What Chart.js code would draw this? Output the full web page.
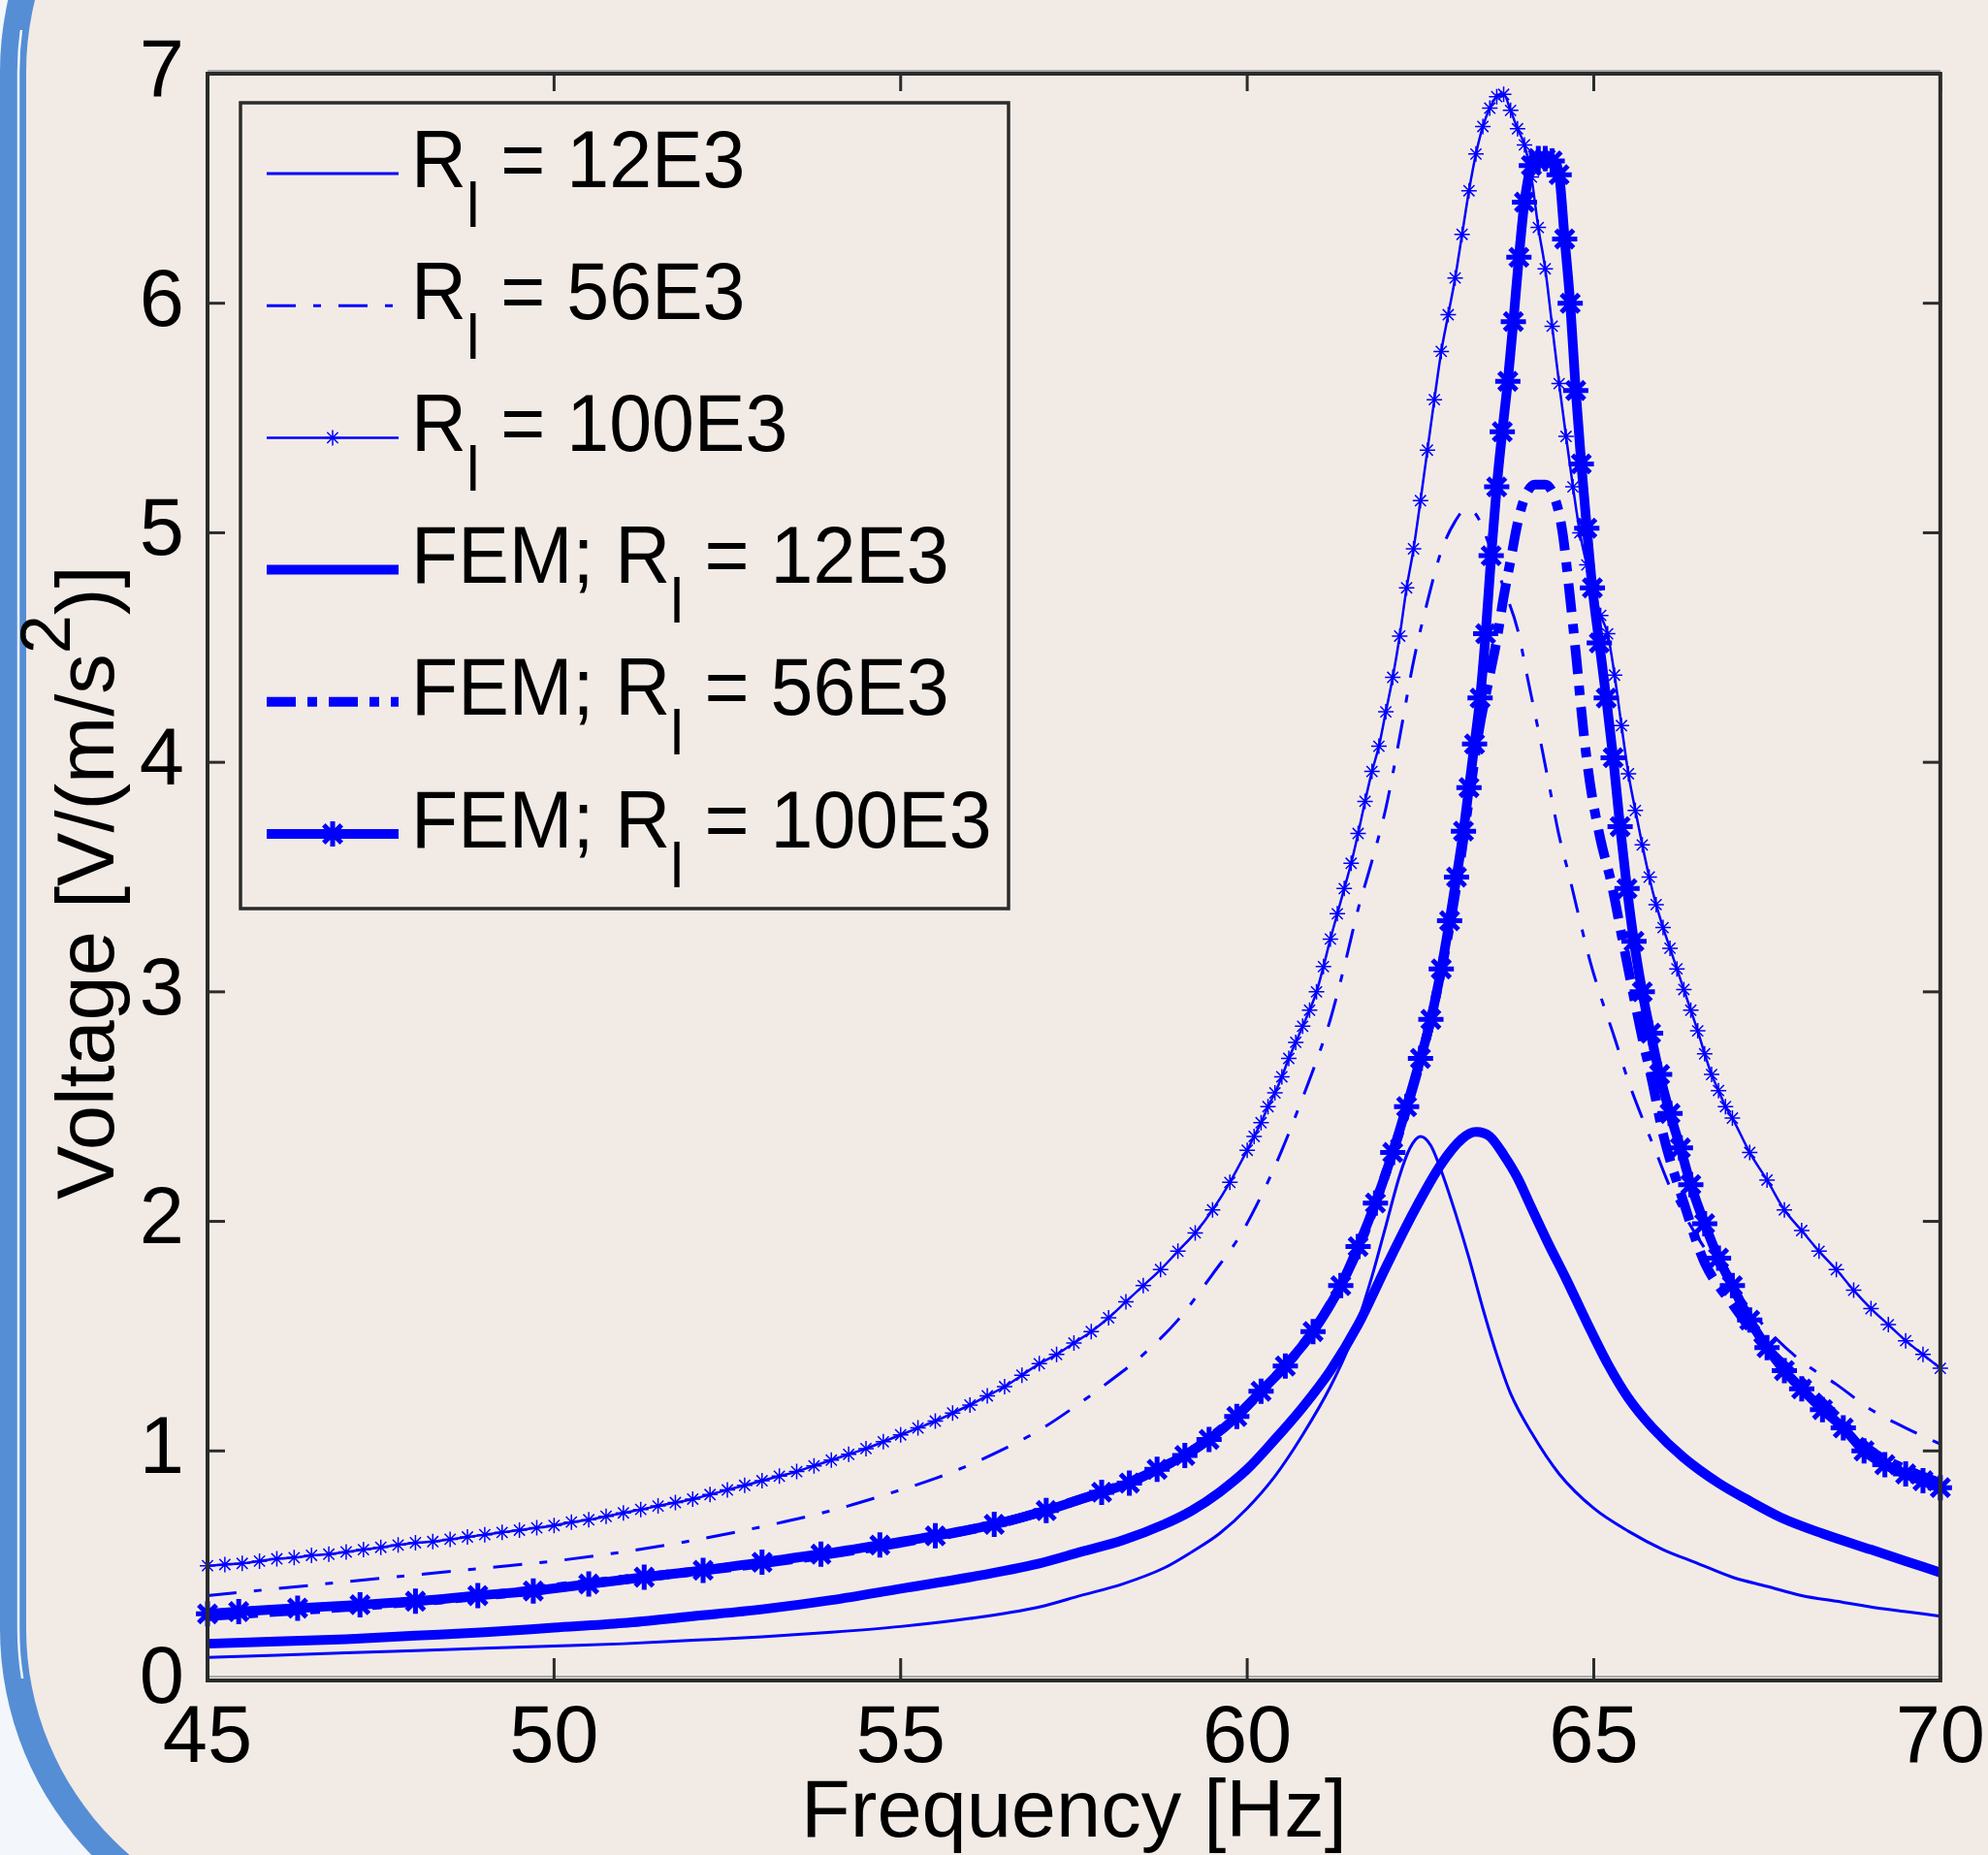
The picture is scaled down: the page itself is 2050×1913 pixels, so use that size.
<!DOCTYPE html>
<html>
<head>
<meta charset="utf-8">
<title>Voltage vs Frequency</title>
<script src="https://cdn.jsdelivr.net/npm/chart.js@4.4.1/dist/chart.umd.min.js"></script>
<style>
  body { margin: 0; background: #f2ebe5; }
  #box { width: 2050px; height: 1913px; }
</style>
</head>
<body>
<div id="box"><canvas id="voltChart"></canvas></div>
<script>
// R_l = 12E3 (thin solid)
const freqR12 = [45,46,47,48,49,50,51,52,53,54,55,56,57,57.6,58.2,58.8,59.2,59.6,60,60.4,60.8,61.2,61.5,61.8,62,62.2,62.35,62.5,62.65,62.8,63,63.2,63.4,63.6,63.8,64.1,64.5,65,65.5,66,66.5,67,67.5,68,68.5,69,69.5,70];
const voltR12 = [0.10,0.11,0.12,0.13,0.14,0.15,0.16,0.175,0.19,0.21,0.235,0.27,0.32,0.37,0.42,0.49,0.56,0.64,0.75,0.89,1.07,1.28,1.48,1.76,1.98,2.20,2.32,2.37,2.33,2.22,2.04,1.84,1.62,1.42,1.25,1.08,0.90,0.75,0.65,0.57,0.51,0.45,0.41,0.37,0.345,0.32,0.30,0.28];

// R_l = 56E3 (thin dash-dot)
const freqR56 = [45,46,47,48,49,50,51,52,53,54,55,55.5,56,56.5,57,57.5,58,58.5,59,59.5,59.9,60.2,60.5,60.75,61,61.2,61.4,61.6,61.8,62,62.2,62.4,62.6,62.8,63,63.15,63.3,63.5,63.7,63.9,64.05,64.2,64.35,64.5,64.65,64.8,64.95,65.1,65.3,65.5,65.7,65.9,66.1,66.5,67,67.5,68,68.5,69,69.5,70];
const voltR56 = [0.37,0.40,0.43,0.46,0.49,0.52,0.56,0.61,0.67,0.74,0.83,0.88,0.94,1.01,1.09,1.19,1.30,1.42,1.57,1.77,1.94,2.11,2.31,2.50,2.70,2.88,3.11,3.36,3.57,3.80,4.11,4.44,4.70,4.92,5.05,5.10,5.08,4.94,4.76,4.58,4.36,4.14,3.91,3.68,3.50,3.31,3.13,2.98,2.80,2.61,2.45,2.30,2.15,1.93,1.72,1.53,1.39,1.29,1.18,1.10,1.03];

// R_l = 100E3 (thin line, star markers)
const freqR100 = [45,45.25,45.5,45.75,46,46.25,46.5,46.75,47,47.25,47.5,47.75,48,48.25,48.5,48.75,49,49.25,49.5,49.75,
  50,50.25,50.5,50.75,51,51.25,51.5,51.75,52,52.25,52.5,52.75,53,53.25,53.5,53.75,54,54.25,54.5,54.75,
  55,55.25,55.5,55.75,56,56.25,56.5,56.75,57,57.25,57.5,57.75,58,58.25,58.5,58.75,59,59.25,59.5,59.75,60,
  60.1,60.2,60.3,60.4,60.5,60.6,60.7,60.8,60.9,61,61.1,61.2,61.3,61.4,61.5,61.6,61.7,61.8,61.9,62,
  62.1,62.2,62.3,62.4,62.5,62.6,62.7,62.8,62.9,63,63.1,63.2,63.3,63.4,63.5,63.6,63.7,63.8,63.9,64,
  64.1,64.2,64.3,64.4,64.5,64.6,64.7,64.8,64.9,65,65.1,65.2,65.3,65.4,65.5,65.6,65.7,65.8,65.9,66,
  66.1,66.2,66.3,66.4,66.5,66.6,66.7,66.8,66.9,
  67,67.25,67.5,67.75,68,68.25,68.5,68.75,69,69.25,69.5,69.75,70];
const voltR100 = [0.50,0.505,0.51,0.52,0.53,0.535,0.545,0.55,0.56,0.57,0.58,0.59,0.60,0.605,0.615,0.625,0.635,0.645,0.655,0.665,
  0.675,0.69,0.70,0.715,0.73,0.745,0.76,0.775,0.79,0.81,0.83,0.85,0.87,0.89,0.91,0.935,0.96,0.985,1.01,1.04,
  1.07,1.10,1.13,1.165,1.20,1.24,1.28,1.33,1.38,1.42,1.47,1.52,1.58,1.65,1.72,1.79,1.87,1.95,2.05,2.17,2.31,
  2.37,2.43,2.50,2.56,2.63,2.71,2.78,2.85,2.92,3.00,3.11,3.23,3.34,3.45,3.56,3.69,3.83,3.96,4.07,4.22,
  4.37,4.55,4.76,4.93,5.14,5.36,5.58,5.79,5.95,6.11,6.30,6.49,6.65,6.77,6.85,6.90,6.91,6.84,6.76,6.69,
  6.55,6.33,6.15,5.90,5.65,5.42,5.20,5.00,4.86,4.75,4.64,4.56,4.38,4.16,3.95,3.79,3.64,3.50,3.38,3.28,
  3.19,3.10,3.01,2.92,2.83,2.73,2.64,2.57,2.50,
  2.45,2.30,2.18,2.05,1.96,1.87,1.79,1.70,1.62,1.55,1.48,1.42,1.36];

// FEM; R_l = 12E3 (thick solid)
const freqFem12 = [45,46,47,48,49,50,51,52,53,54,55,56,57,57.6,58.2,58.8,59.2,59.6,60,60.4,60.8,61.2,61.6,62,62.4,62.8,63.1,63.3,63.5,63.7,63.9,64.1,64.35,64.6,64.9,65.2,65.5,65.85,66.3,66.8,67.2,67.7,68.3,69,69.5,70];
const voltFem12 = [0.16,0.17,0.18,0.195,0.21,0.23,0.25,0.28,0.31,0.35,0.40,0.45,0.51,0.56,0.61,0.68,0.74,0.82,0.92,1.05,1.19,1.35,1.55,1.80,2.04,2.25,2.36,2.39,2.37,2.29,2.19,2.06,1.90,1.75,1.56,1.38,1.23,1.10,0.97,0.86,0.79,0.71,0.64,0.57,0.52,0.47];

// FEM; R_l = 56E3 (thick dash-dot)
const freqFem56 = [45,47,49,51,53,55,56.5,57.5,58.5,59.2,59.8,60.3,60.8,61.2,61.6,62,62.3,62.6,62.85,63.05,63.2,63.35,63.5,63.61,63.7,63.8,63.9,64,64.15,64.3,64.45,64.55,64.65,64.75,64.85,64.95,65.1,65.25,65.4,65.55,65.7,65.85,66,66.3,66.6,67,67.4,68,68.5,69,69.5,70];
const voltFem56 = [0.28,0.32,0.37,0.44,0.51,0.60,0.69,0.78,0.89,1.0,1.14,1.29,1.46,1.64,1.88,2.21,2.49,2.82,3.17,3.52,3.84,4.15,4.38,4.55,4.72,4.88,5.04,5.15,5.21,5.21,5.14,5.0,4.74,4.45,4.14,3.90,3.66,3.48,3.25,3.02,2.80,2.60,2.38,2.08,1.82,1.64,1.48,1.30,1.15,1.00,0.92,0.86];

// FEM; R_l = 100E3 (thick line, bold star markers)
const freqFem100 = [45,45.45,46.3,47.2,48,48.9,49.7,50.5,51.3,52.15,53,53.85,54.7,55.5,56.35,57.1,57.9,58.3,58.7,59.1,
  59.45,59.85,60.2,60.55,60.95,61.35,61.6,61.85,62.1,62.3,62.5,62.65,62.8,62.92,63.02,63.12,63.2,63.28,63.36,63.44,
  63.52,63.6,63.68,63.76,63.84,63.92,64,64.1,64.2,64.3,64.4,64.5,64.58,64.66,64.74,64.82,64.9,64.98,65.08,65.18,
  65.28,65.38,65.48,65.58,65.7,65.82,65.95,66.1,66.25,66.4,66.6,66.8,67,67.25,67.5,67.75,68,68.3,68.6,68.9,
  69.2,69.5,69.75,70];
const voltFem100 = [0.29,0.30,0.315,0.33,0.345,0.37,0.39,0.42,0.45,0.48,0.515,0.55,0.59,0.63,0.68,0.74,0.82,0.86,0.92,0.98,
  1.05,1.15,1.26,1.37,1.52,1.72,1.89,2.08,2.30,2.50,2.71,2.88,3.10,3.31,3.50,3.70,3.89,4.08,4.28,4.56,
  4.90,5.20,5.44,5.66,5.92,6.20,6.44,6.60,6.63,6.63,6.62,6.56,6.28,6.00,5.62,5.30,5.02,4.76,4.52,4.28,
  4.02,3.72,3.45,3.22,3.00,2.82,2.64,2.47,2.32,2.16,1.99,1.84,1.72,1.57,1.45,1.35,1.27,1.18,1.10,1.00,
  0.94,0.90,0.87,0.84];

const xTickValues = [45, 50, 55, 60, 65, 70];
const yTickValues = [0, 1, 2, 3, 4, 5, 6, 7];
const legendPrefix = ["R", "R", "R", "FEM; R", "FEM; R", "FEM; R"];
const legendSuffix = [" = 12E3", " = 56E3", " = 100E3", " = 12E3", " = 56E3", " = 100E3"];

const FONT = '"Liberation Sans", Arial, sans-serif';
const BLUE = "#0000ff";

function pairs(xs, ys) {
    return xs.map((x, i) => ({ x: x, y: ys[i] }));
}

const datasets = [
    { data: pairs(freqR12, voltR12), borderWidth: 3, pointRadius: 0, order: 6 },
    { data: pairs(freqR56, voltR56), borderWidth: 3, borderDash: [30, 18, 8, 18], pointRadius: 0, order: 5 },
    { data: pairs(freqR100, voltR100), borderWidth: 2.5, pointStyle: "star", pointRadius: 8, pointBorderWidth: 1.5, order: 4 },
    { data: pairs(freqFem12, voltFem12), borderWidth: 10, pointRadius: 0, order: 3 },
    { data: pairs(freqFem56, voltFem56), borderWidth: 10, borderDash: [30, 12, 10, 12], pointRadius: 0, order: 2 },
    { data: pairs(freqFem100, voltFem100), borderWidth: 10, pointStyle: "star", pointRadius: 13, pointBorderWidth: 5, order: 1 }
].map(d => Object.assign({
    borderColor: BLUE,
    backgroundColor: BLUE,
    pointBorderColor: BLUE,
    pointBackgroundColor: BLUE,
    showLine: true,
    fill: false,
    cubicInterpolationMode: "monotone",
    borderCapStyle: "butt",
    borderJoinStyle: "round",
    clip: 12
}, d));

// slide frame: blue rounded border on the left, beige panel
function framePath(ctx, inset) {
    const r = 335 - inset;
    ctx.beginPath();
    ctx.moveTo(335, 74 - r);
    ctx.arc(335, 74, r, -Math.PI / 2, Math.PI, true);
    ctx.lineTo(335 - r, 1680);
    ctx.arc(335, 1680, r, Math.PI, Math.PI / 2, true);
    ctx.lineTo(2200, 1680 + r);
    ctx.lineTo(2200, 74 - r);
    ctx.closePath();
}

const framePlugin = {
    id: "frame",
    beforeDraw(chart) {
        const ctx = chart.ctx;
        ctx.save();
        ctx.fillStyle = "#f3f6fa";
        ctx.fillRect(0, 0, chart.width, chart.height);
        framePath(ctx, 0);
        ctx.fillStyle = "#558ed5";
        ctx.fill();
        framePath(ctx, 27);
        ctx.fillStyle = "#f2ebe5";
        ctx.fill();
        // thin light line inside the border
        ctx.beginPath();
        ctx.rect(0, 31, 60, 1700);
        ctx.clip();
        framePath(ctx, 19);
        ctx.strokeStyle = "#f3f6fa";
        ctx.lineWidth = 2.5;
        ctx.stroke();
        ctx.restore();
    }
};

function seg(ctx, x1, y1, x2, y2) {
    ctx.beginPath();
    ctx.moveTo(x1, y1);
    ctx.lineTo(x2, y2);
    ctx.stroke();
}

const boxPlugin = {
    id: "box",
    afterDraw(chart) {
        const { ctx, chartArea: a, scales: { x, y } } = chart;
        ctx.save();

        // axes box with inward ticks
        ctx.strokeStyle = "#a8a8a8";
        ctx.lineWidth = 2;
        seg(ctx, a.left, a.top - 3, a.right, a.top - 3);
        seg(ctx, a.left, a.bottom - 4, a.right, a.bottom - 4);
        ctx.strokeStyle = "#2b2b2b";
        ctx.lineWidth = 4;
        ctx.strokeRect(a.left, a.top, a.right - a.left, a.bottom - a.top);
        ctx.lineWidth = 3;
        xTickValues.forEach(v => {
            const px = x.getPixelForValue(v);
            seg(ctx, px, a.bottom, px, a.bottom - 23);
            seg(ctx, px, a.top, px, a.top + 18);
        });
        yTickValues.forEach(v => {
            const py = y.getPixelForValue(v);
            seg(ctx, a.left, py, a.left + 18, py);
            seg(ctx, a.right, py, a.right - 18, py);
        });

        // legend
        ctx.fillStyle = "#f2ebe5";
        ctx.fillRect(248, 106, 792, 831);
        ctx.strokeStyle = "#2b2b2b";
        ctx.lineWidth = 3.5;
        ctx.strokeRect(248, 106, 792, 831);
        chart.data.datasets.forEach((ds, i) => {
            const rowY = 179 + i * 136.2;
            ctx.strokeStyle = BLUE;
            ctx.fillStyle = BLUE;
            ctx.lineWidth = ds.borderWidth;
            ctx.lineCap = "butt";
            ctx.setLineDash(ds.borderDash || []);
            seg(ctx, 275, rowY, 411, rowY);
            ctx.setLineDash([]);
            if (ds.pointRadius > 0) {
                ctx.lineWidth = ds.pointBorderWidth;
                Chart.helpers.drawPoint(ctx, {
                    pointStyle: ds.pointStyle,
                    radius: ds.pointRadius,
                    borderWidth: ds.pointBorderWidth,
                    rotation: 0
                }, 343, rowY);
            }
            // label text, slightly condensed like the original
            ctx.save();
            ctx.translate(424, rowY + 13.5);
            ctx.scale(0.95, 1);
            ctx.fillStyle = "#000";
            ctx.textBaseline = "alphabetic";
            ctx.textAlign = "left";
            ctx.font = "83px " + FONT;
            let tx = 0;
            ctx.fillText(legendPrefix[i], tx, 0);
            tx += ctx.measureText(legendPrefix[i]).width;
            ctx.font = "64px " + FONT;
            ctx.fillText("l", tx, 41);
            tx += ctx.measureText("l").width;
            ctx.font = "83px " + FONT;
            ctx.fillText(legendSuffix[i], tx, 0);
            ctx.restore();
        });

        // y axis title with superscript
        ctx.save();
        ctx.translate(117, 1237);
        ctx.rotate(-Math.PI / 2);
        ctx.fillStyle = "#000";
        ctx.textAlign = "left";
        ctx.textBaseline = "alphabetic";
        ctx.font = "83px " + FONT;
        let ty = 0;
        ctx.fillText("Voltage [V/(m/s", ty, 0);
        ty += ctx.measureText("Voltage [V/(m/s").width;
        ctx.font = "72px " + FONT;
        ctx.fillText("2", ty, -45);
        ty += ctx.measureText("2").width;
        ctx.font = "83px " + FONT;
        ctx.fillText(")]", ty, 0);
        ctx.restore();

        ctx.restore();
    }
};

const ctx = document.getElementById("voltChart").getContext("2d");
const voltChart = new Chart(ctx, {
    type: "scatter",
    data: { datasets: datasets },
    options: {
        responsive: true,
        maintainAspectRatio: false,
        animation: false,
        layout: { padding: { top: 76, right: 46, left: 0, bottom: 0 } },
        plugins: {
            legend: { display: false },
            tooltip: { enabled: false }
        },
        scales: {
            x: {
                type: "linear",
                min: 45,
                max: 70,
                afterBuildTicks: s => { s.ticks = xTickValues.map(v => ({ value: v })); },
                afterFit: s => { s.height = 180; },
                grid: { display: false },
                border: { display: false },
                ticks: {
                    color: "#000",
                    padding: 3,
                    maxRotation: 0,
                    autoSkip: false,
                    font: { size: 83, family: FONT, lineHeight: 1.2 }
                },
                title: {
                    display: true,
                    text: "Frequency [Hz]",
                    color: "#000",
                    padding: 0,
                    font: { size: 83, family: FONT, lineHeight: 1 }
                }
            },
            y: {
                type: "linear",
                min: 0,
                max: 7,
                afterBuildTicks: s => { s.ticks = yTickValues.map(v => ({ value: v })); },
                afterFit: s => { s.width = 214; },
                grid: { display: false },
                border: { display: false },
                ticks: {
                    color: "#000",
                    padding: 16,
                    font: { size: 83, family: FONT, lineHeight: 1.2 }
                },
                title: { display: false }
            }
        }
    },
    plugins: [framePlugin, boxPlugin]
});
</script>
</body>
</html>
